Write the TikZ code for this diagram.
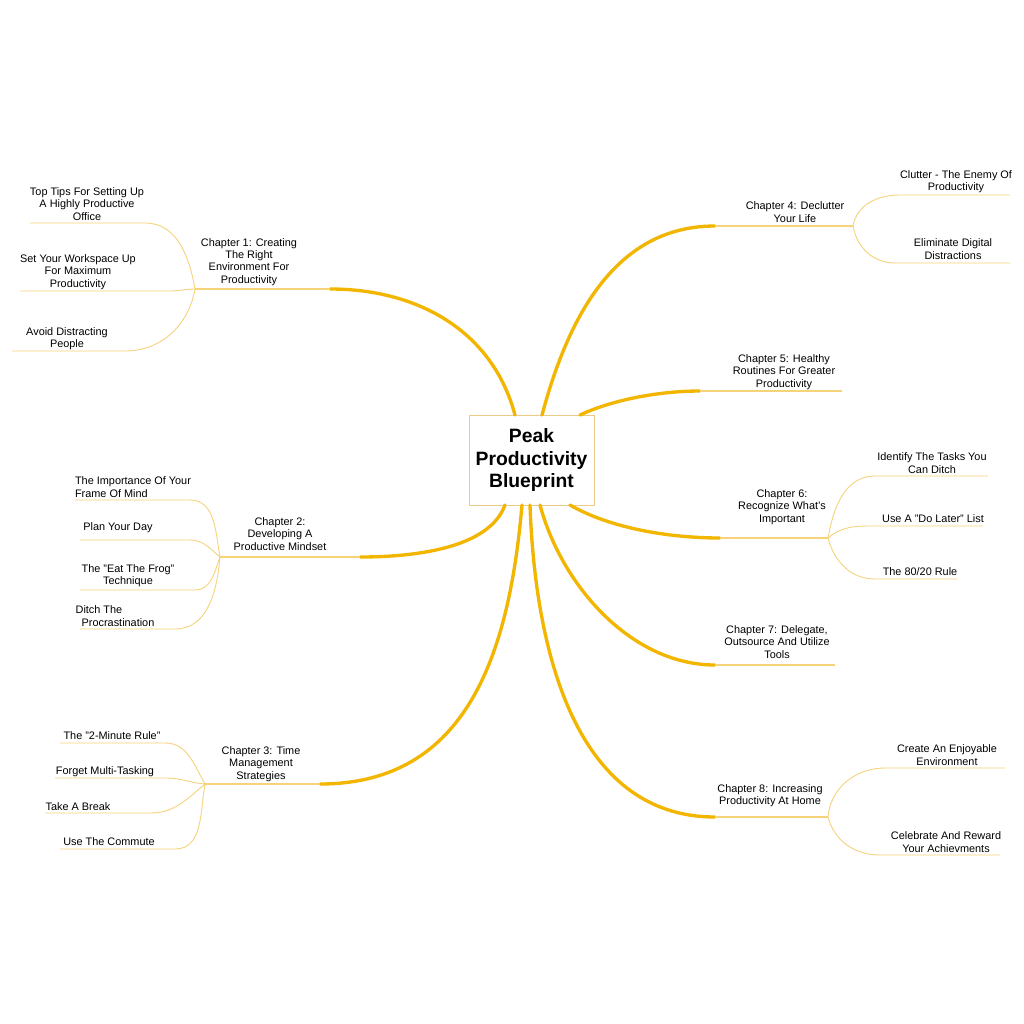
\documentclass[tikz,border=0pt]{standalone}
\usepackage{fontspec}
\setmainfont{Liberation Sans}
\definecolor{trunkc}{HTML}{F2B600}
\definecolor{twigc}{HTML}{F6D27A}
\definecolor{boxc}{HTML}{EBCB86}
\begin{document}
\begin{tikzpicture}[x=0.02cm,y=0.02cm,
  lbl/.style={align=center,inner sep=0pt,font=\fontsize{6.2}{7}\selectfont},
  trunk/.style={draw=trunkc,line width=1.9pt,line cap=round},
  twig/.style={draw=twigc,line width=0.5pt}]
\useasboundingbox (0,0) rectangle (1024,-1024);
\fill[white] (0,0) rectangle (1024,-1024);
% center
\node[draw=boxc,fill=white,minimum width=125*0.02cm,minimum height=90*0.02cm,align=center,inner sep=0pt,font=\fontsize{11}{13}\selectfont\bfseries] (ctr) at (531.5,-460) {Peak\\Productivity\\Blueprint};
\coordinate (c1) at (515,-415);
\coordinate (c2) at (505,-505);
\coordinate (c3) at (522,-505);
\coordinate (c4) at (542,-415);
\coordinate (c5) at (580,-415);
\coordinate (c6) at (570,-505);
\coordinate (c7) at (540,-505);
\coordinate (c8) at (530,-505);
% chapter labels
\node[lbl] (ch1) at (249,-262) {Chapter 1: Creating\\The Right\\Environment For\\Productivity};
\node[lbl] (ch2) at (280,-534) {Chapter 2:\\Developing A\\Productive Mindset};
\node[lbl] (ch3) at (261,-764) {Chapter 3: Time\\Management\\Strategies};
\node[lbl] (ch4) at (795,-212) {Chapter 4: Declutter\\Your Life};
\node[lbl] (ch5) at (784,-372) {Chapter 5: Healthy\\Routines For Greater\\Productivity};
\node[lbl] (ch6) at (782,-507) {Chapter 6:\\Recognize What's\\Important};
\node[lbl] (ch7) at (777,-642) {Chapter 7: Delegate,\\Outsource And Utilize\\Tools};
\node[lbl] (ch8) at (770,-796) {Chapter 8: Increasing\\Productivity At Home};
% junctions / ends
\coordinate (j1) at (195,-289); \coordinate (e1) at (330,-289);
\coordinate (j2) at (220,-557); \coordinate (e2) at (360,-557);
\coordinate (j3) at (205,-784); \coordinate (e3) at (320,-784);
\coordinate (j4) at (853,-226); \coordinate (e4) at (715,-226);
\coordinate (j5) at (842,-391); \coordinate (e5) at (700,-391);
\coordinate (j6) at (828,-538); \coordinate (e6) at (720,-538);
\coordinate (j7) at (835,-665); \coordinate (e7) at (715,-665);
\coordinate (j8) at (828,-817); \coordinate (e8) at (715,-817);
% trunks
\draw[trunk] (c1) to[out=105,in=0,looseness=1] (e1);
\draw[trunk] (c2) to[out=-110,in=0,looseness=0.8] (e2);
\draw[trunk] (c3) to[out=-95,in=0,looseness=1.1] (e3);
\draw[trunk] (c4) to[out=75,in=180,looseness=1] (e4);
\draw[trunk] (c5) to[out=25,in=180,looseness=0.8] (e5);
\draw[trunk] (c6) to[out=-30,in=180,looseness=0.8] (e6);
\draw[trunk] (c7) to[out=-75,in=180,looseness=0.9] (e7);
\draw[trunk] (c8) to[out=-88,in=180,looseness=1] (e8);
\foreach \i in {1,...,8} \draw[draw=twigc,line width=0.9pt] (j\i) -- (e\i);
% subtopics
\node[lbl] (s11) at (87,-204) {Top Tips For Setting Up\\A Highly Productive\\Office};
\node[lbl] (s12) at (78,-272) {Set Your Workspace Up\\For Maximum\\Productivity};
\node[lbl] (s13) at (67,-339) {Avoid Distracting\\People};
\coordinate (a11) at (30,-223); \coordinate (b11) at (145,-223);
\coordinate (a12) at (20,-291); \coordinate (b12) at (170,-291);
\coordinate (a13) at (12,-351); \coordinate (b13) at (125,-351);
\draw[twig] (j1) to[out=100,in=0] (b11) -- (a11);
\draw[twig] (j1) to[out=180,in=0] (b12) -- (a12);
\draw[twig] (j1) to[out=-100,in=0] (b13) -- (a13);
\node[lbl,align=left] (s21) at (133,-487) {The Importance Of Your\\Frame Of Mind};
\node[lbl] (s22) at (118,-528) {Plan Your Day};
\node[lbl] (s23) at (128,-576) {The "Eat The Frog"\\Technique};
\node[lbl,align=left] (s24) at (115,-616) {Ditch The\\\ \ Procrastination};
\coordinate (a21) at (75,-500); \coordinate (b21) at (190,-500);
\coordinate (a22) at (80,-540); \coordinate (b22) at (190,-540);
\coordinate (a23) at (80,-590); \coordinate (b23) at (195,-590);
\coordinate (a24) at (80,-629); \coordinate (b24) at (175,-629);
\draw[twig] (j2) to[out=100,in=0] (b21) -- (a21);
\draw[twig] (j2) to[out=140,in=0] (b22) -- (a22);
\draw[twig] (j2) to[out=-110,in=0] (b23) -- (a23);
\draw[twig] (j2) to[out=-95,in=0] (b24) -- (a24);
\node[lbl] (s31) at (112,-736) {The "2-Minute Rule"};
\node[lbl] (s32) at (105,-772) {Forget Multi-Tasking};
\node[lbl] (s33) at (78,-807) {Take A Break};
\node[lbl] (s34) at (109,-842) {Use The Commute};
\coordinate (a31) at (60,-743); \coordinate (b31) at (165,-743);
\coordinate (a32) at (55,-778); \coordinate (b32) at (165,-778);
\coordinate (a33) at (45,-813); \coordinate (b33) at (150,-813);
\coordinate (a34) at (60,-849); \coordinate (b34) at (175,-849);
\draw[twig] (j3) to[out=120,in=0] (b31) -- (a31);
\draw[twig] (j3) to[out=175,in=0] (b32) -- (a32);
\draw[twig] (j3) to[out=-140,in=0] (b33) -- (a33);
\draw[twig] (j3) to[out=-100,in=0] (b34) -- (a34);
\node[lbl] (s41) at (956,-182) {Clutter - The Enemy Of\\Productivity};
\node[lbl] (s42) at (953,-249) {Eliminate Digital\\Distractions};
\coordinate (a41) at (1010,-195); \coordinate (b41) at (900,-195);
\coordinate (a42) at (1010,-263); \coordinate (b42) at (895,-263);
\draw[twig] (j4) to[out=80,in=180] (b41) -- (a41);
\draw[twig] (j4) to[out=-80,in=180] (b42) -- (a42);
\node[lbl] (s61) at (932,-463) {Identify The Tasks You\\Can Ditch};
\node[lbl] (s62) at (933,-519) {Use A "Do Later" List};
\node[lbl] (s63) at (920,-572) {The 80/20 Rule};
\coordinate (a61) at (988,-476); \coordinate (b61) at (875,-476);
\coordinate (a62) at (983,-526); \coordinate (b62) at (875,-526);
\coordinate (a63) at (957,-579); \coordinate (b63) at (875,-579);
\draw[twig] (j6) to[out=80,in=180] (b61) -- (a61);
\draw[twig] (j6) to[out=40,in=180] (b62) -- (a62);
\draw[twig] (j6) to[out=-75,in=180] (b63) -- (a63);
\node[lbl] (s81) at (947,-755) {Create An Enjoyable\\Environment};
\node[lbl] (s82) at (946,-842) {Celebrate And Reward\\Your Achievments};
\coordinate (a81) at (1005,-768); \coordinate (b81) at (885,-768);
\coordinate (a82) at (1000,-855); \coordinate (b82) at (880,-855);
\draw[twig] (j8) to[out=85,in=180] (b81) -- (a81);
\draw[twig] (j8) to[out=-75,in=180] (b82) -- (a82);
\end{tikzpicture}
\end{document}
